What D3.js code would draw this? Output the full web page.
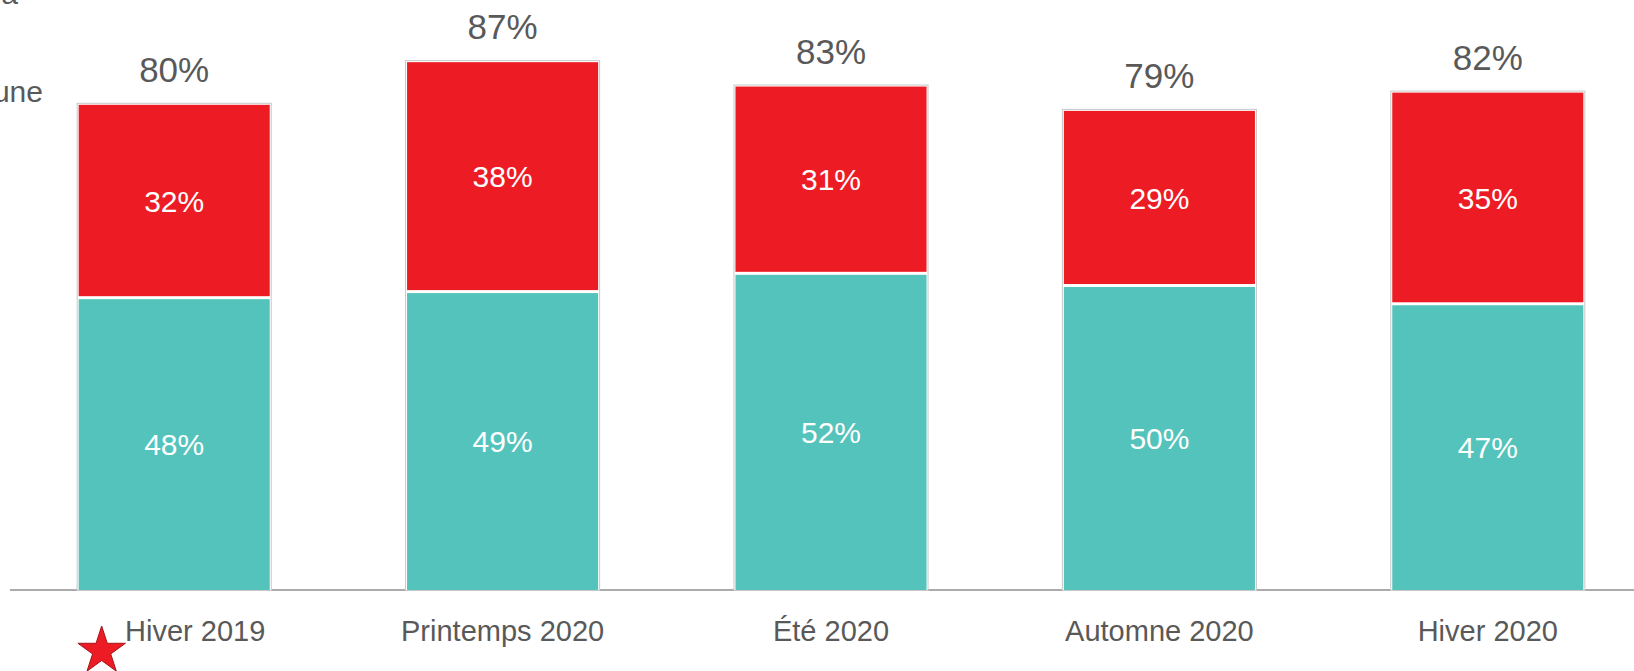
<!DOCTYPE html>
<html>
<head>
<meta charset="utf-8">
<script src="https://cdn.jsdelivr.net/npm/d3@7"></script>
<style>
  html, body { margin: 0; padding: 0; background: #fff; }
  svg { display: block; font-family: "Liberation Sans", Arial, sans-serif; }
</style>
</head>
<body>
<svg id="chart"></svg>
<script>
// saisons
var seasons = ["Hiver 2019", "Printemps 2020", "Été 2020", "Automne 2020", "Hiver 2020"];
// bottom (teal) segment
var lowerValues = [48, 49, 52, 50, 47];
// top (red) segment
var upperValues = [32, 38, 31, 29, 35];
// totals shown above the bars
var totalValues = [80, 87, 83, 79, 82];

var width = 1634, height = 671;
var baseY = 590;
var colTeal = "#54c3bc", colRed = "#ed1c24", colText = "#595959";

var svg = d3.select("#chart")
    .attr("width", width)
    .attr("height", height);

var x = d3.scaleBand()
    .domain(seasons)
    .range([10, 1652])
    .paddingInner(0.406)
    .paddingOuter(0.203);

var y = d3.scaleLinear()
    .domain([0, 100])
    .range([baseY, -19]);

//cropped text fragments on the left
svg.append("text")
    .attr("x", 18).attr("y", 4)
    .attr("text-anchor", "end")
    .style("font-size", "30px")
    .style("fill", colText)
    .text("a");
svg.append("text")
    .attr("x", 43).attr("y", 102)
    .attr("text-anchor", "end")
    .style("font-size", "30px")
    .style("fill", colText)
    .text("une");

//baseline
svg.append("line")
    .attr("x1", 10).attr("x2", width)
    .attr("y1", baseY).attr("y2", baseY)
    .style("stroke", "#ababab")
    .style("stroke-width", 2);

var data = seasons.map(function(s, i){
    return {season: s, low: lowerValues[i], up: upperValues[i], total: totalValues[i]};
});

var bars = svg.selectAll("g.bar")
    .data(data)
    .enter()
    .append("g")
    .attr("class", "bar");

//outer grey frame
bars.append("rect")
    .attr("x", function(d){ return x(d.season) + 0.5; })
    .attr("y", function(d){ return y(d.low + d.up) + 0.5; })
    .attr("width", x.bandwidth() - 1)
    .attr("height", function(d){ return baseY - y(d.low + d.up); })
    .style("fill", "#fff")
    .style("stroke", "#c8c8c8")
    .style("stroke-width", 1);

//teal segment
bars.append("rect")
    .attr("x", function(d){ return x(d.season) + 2; })
    .attr("y", function(d){ return y(d.low) + 1.5; })
    .attr("width", x.bandwidth() - 4)
    .attr("height", function(d){ return baseY - y(d.low) - 1.5; })
    .style("fill", colTeal);

//red segment
bars.append("rect")
    .attr("x", function(d){ return x(d.season) + 2; })
    .attr("y", function(d){ return y(d.low + d.up) + 2; })
    .attr("width", x.bandwidth() - 4)
    .attr("height", function(d){ return y(d.low) - y(d.low + d.up) - 3.5; })
    .style("fill", colRed);

//values inside
bars.append("text")
    .attr("x", function(d){ return x(d.season) + x.bandwidth()/2; })
    .attr("y", function(d){ return (y(d.low) + baseY)/2; })
    .attr("dy", "0.38em")
    .attr("text-anchor", "middle")
    .style("font-size", "30px")
    .style("fill", "#fff")
    .text(function(d){ return d.low + "%"; });

bars.append("text")
    .attr("x", function(d){ return x(d.season) + x.bandwidth()/2; })
    .attr("y", function(d){ return (y(d.low) + y(d.low + d.up))/2; })
    .attr("dy", "0.38em")
    .attr("text-anchor", "middle")
    .style("font-size", "30px")
    .style("fill", "#fff")
    .text(function(d){ return d.up + "%"; });

//totals
bars.append("text")
    .attr("x", function(d){ return x(d.season) + x.bandwidth()/2; })
    .attr("y", function(d){ return y(d.total) - 21; })
    .attr("text-anchor", "middle")
    .style("font-size", "35px")
    .style("fill", colText)
    .text(function(d){ return d.total + "%"; });

//category labels (first one pushed right to leave room for the star)
var starShift = 21;
svg.selectAll("text.cat")
    .data(seasons)
    .enter()
    .append("text")
    .attr("class", "cat")
    .attr("x", function(d, i){ return x(d) + x.bandwidth()/2 + (i == 0 ? starShift : 0); })
    .attr("y", 641)
    .attr("text-anchor", "middle")
    .style("font-size", "29px")
    .style("fill", colText)
    .text(function(d){ return d; });

//red star
var star = d3.symbol().type(d3.symbolStar).size(700);
svg.append("path")
    .attr("d", star())
    .attr("transform", "translate(" + (x(seasons[0]) + 25) + "," + 651 + ")")
    .style("fill", colRed)
    .style("stroke", "#a3161b")
    .style("stroke-width", 1);
</script>
</body>
</html>
